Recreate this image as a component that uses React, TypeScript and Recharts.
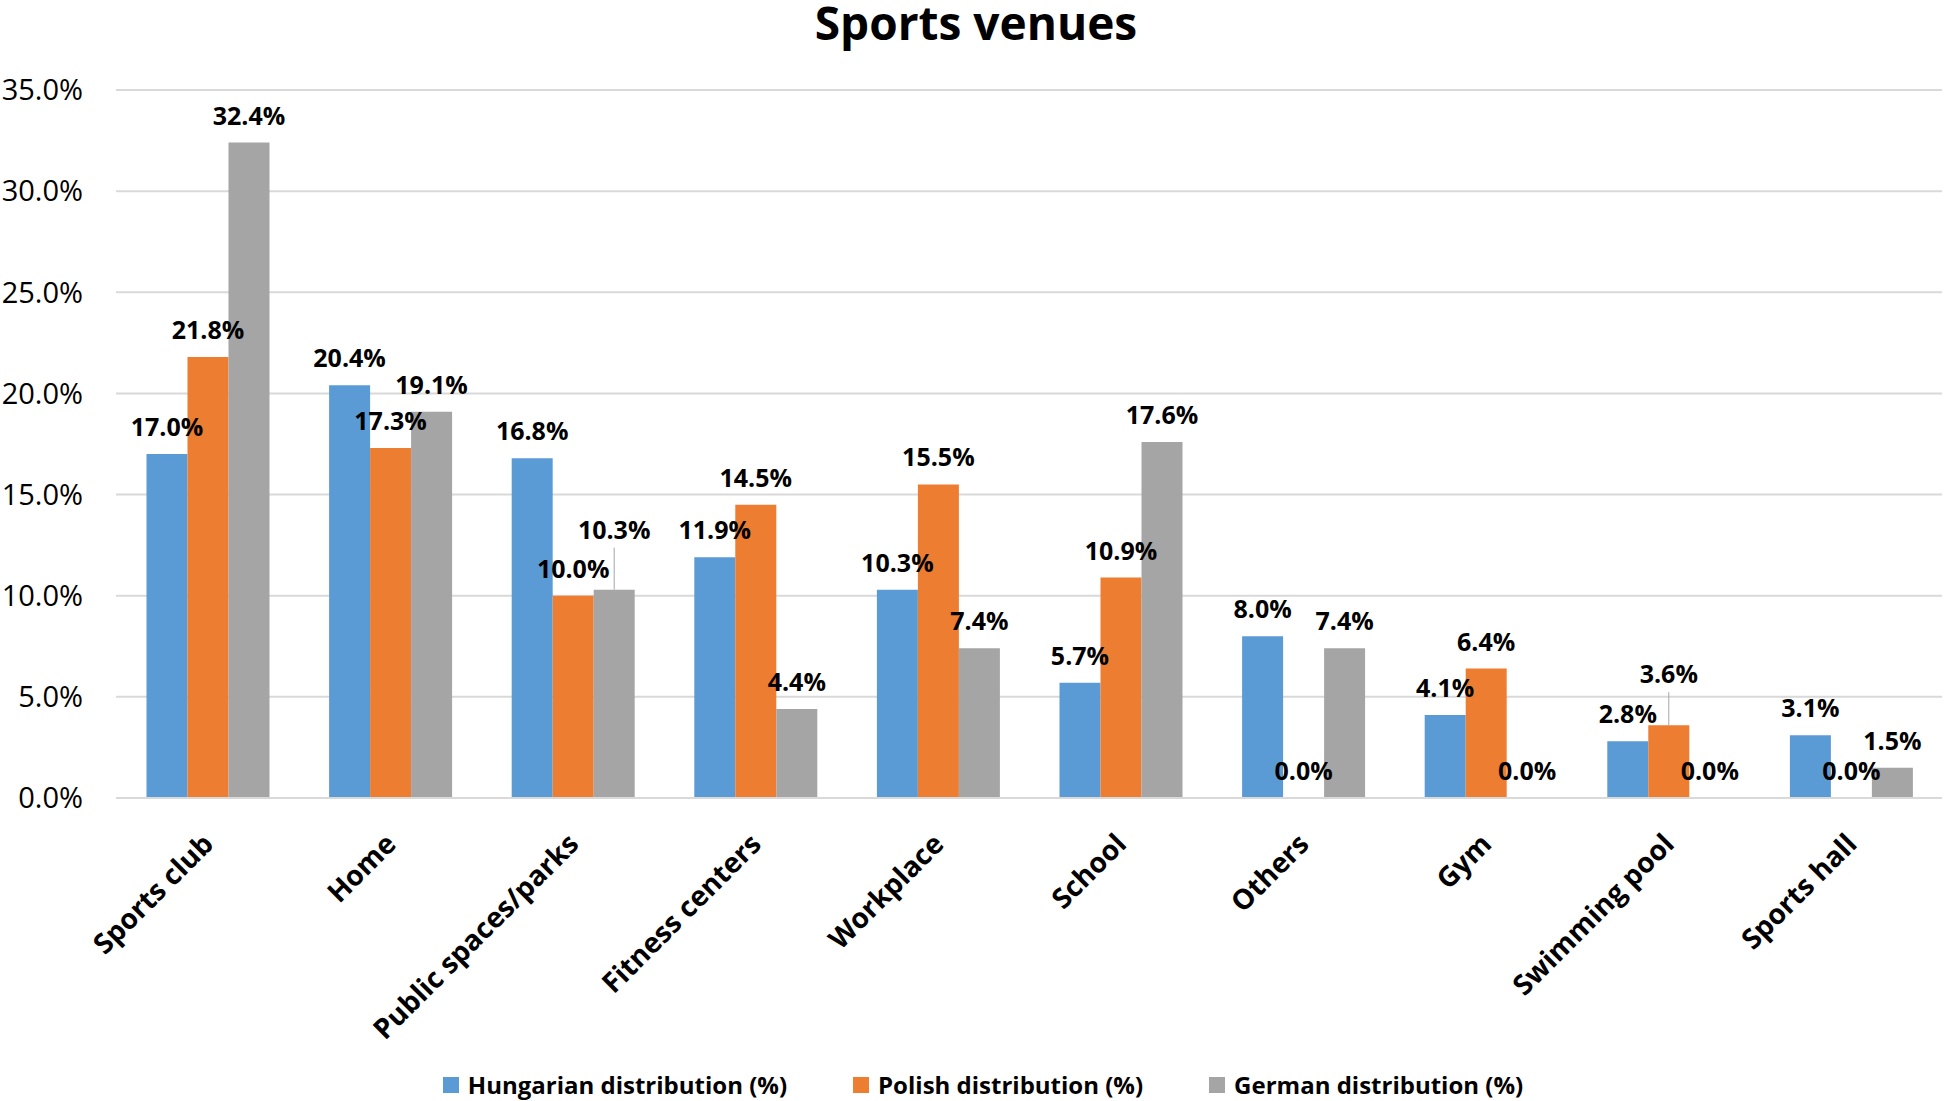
import { Bar, BarChart, CartesianGrid, LabelList, Rectangle, XAxis, YAxis } from "recharts";

const categories = [
  "Sports club",
  "Home",
  "Public spaces/parks",
  "Fitness centers",
  "Workplace",
  "School",
  "Others",
  "Gym",
  "Swimming pool",
  "Sports hall",
];
const hungarian = [17.0, 20.4, 16.8, 11.9, 10.3, 5.7, 8.0, 4.1, 2.8, 3.1];
const polish = [21.8, 17.3, 10.0, 14.5, 15.5, 10.9, 0.0, 6.4, 3.6, 0.0];
const german = [32.4, 19.1, 10.3, 4.4, 7.4, 17.6, 7.4, 0.0, 0.0, 1.5];
const yTicks = [0, 5, 10, 15, 20, 25, 30, 35];

const series = [
  { key: "hungarian", name: "Hungarian distribution (%)", color: "#5B9BD5" },
  { key: "polish", name: "Polish distribution (%)", color: "#ED7D31" },
  { key: "german", name: "German distribution (%)", color: "#A5A5A5" },
];

const data = categories.map((c, i) => ({
  category: c,
  hungarian: hungarian[i],
  polish: polish[i],
  german: german[i],
}));

// labels that Excel pushed up with a leader line (series|category)
const lifted: Record<string, number> = {
  "german|Public spaces/parks": 33,
  "polish|Swimming pool": 24,
};

const FONT = "'Open Sans', 'DejaVu Sans', sans-serif";

function makeLabel(key: string) {
  return (props: any) => {
    const { x, y, width, height, value, index } = props;
    const cx = Number(x) + Number(width) / 2;
    // zero bars get a 1px min size so the label still shows; put it back on the axis
    const top = Number(value) === 0 ? Number(y) + Number(height) : Number(y);
    const extra = lifted[`${key}|${categories[index]}`] || 0;
    const ty = top - 28 - extra;
    return (
      <g>
        {extra > 0 && <line x1={cx} x2={cx} y1={ty + 19} y2={top} stroke="#A6A6A6" strokeWidth={1} />}
        <text x={cx} y={ty} textAnchor="middle" dominantBaseline="central" fontFamily={FONT} fontWeight={700} fontSize={25} fill="#000">
          {Number(value).toFixed(1)}%
        </text>
      </g>
    );
  };
}

function BarShape(props: any) {
  if (!props.value || Number(props.value) === 0 || (Array.isArray(props.value) && props.value[1] === 0)) return <g />;
  return <Rectangle {...props} />;
}

function CategoryTick(props: any) {
  const { x, y, payload } = props;
  return (
    <text
      x={x}
      y={y}
      transform={`rotate(-45 ${x} ${y})`}
      textAnchor="end"
      dominantBaseline="central"
      fontFamily={FONT}
      fontWeight={700}
      fontSize={28}
      fill="#000"
    >
      {payload.value}
    </text>
  );
}

export default function App() {
  return (
    <div style={{ position: "absolute", left: 0, top: 0, width: 1946, height: 1101, background: "#fff", fontFamily: FONT }}>
      <div style={{ position: "absolute", left: 0, width: 1946, top: 0, textAlign: "center", fontSize: 46, fontWeight: 700, lineHeight: "44px", paddingLeft: 6, boxSizing: "border-box" }}>
        Sports venues
      </div>
      <BarChart
        width={1946}
        height={1101}
        data={data}
        margin={{ top: 90, right: 4, bottom: 103, left: 0 }}
        barCategoryGap="16.7%"
        barGap={0}
      >
        <CartesianGrid vertical={false} stroke="#D9D9D9" strokeWidth={2} />
        <XAxis
          dataKey="category"
          height={200}
          interval={0}
          tickLine={false}
          tickSize={0}
          tickMargin={40}
          axisLine={{ stroke: "#D9D9D9", strokeWidth: 2 }}
          tick={<CategoryTick />}
        />
        <YAxis
          width={116}
          domain={[0, 35]}
          ticks={yTicks}
          axisLine={false}
          tickLine={false}
          tickSize={0}
          tickMargin={33}
          tickFormatter={(v: number) => `${v.toFixed(1)}%`}
          tick={{ fill: "#000", fontSize: 29, fontFamily: FONT }}
        />
        {series.map((s) => (
          <Bar
            key={s.key}
            dataKey={s.key}
            name={s.name}
            fill={s.color}
            minPointSize={1}
            shape={<BarShape />}
            isAnimationActive={false}
          >
            <LabelList dataKey={s.key} content={makeLabel(s.key)} />
          </Bar>
        ))}
      </BarChart>
      <div style={{ position: "absolute", left: 0, top: 1072, width: 1946, display: "flex", justifyContent: "center", paddingLeft: 20, boxSizing: "border-box" }}>
        {series.map((s, i) => (
          <div key={s.key} style={{ display: "flex", alignItems: "center", marginLeft: i === 0 ? 0 : 66 }}>
            <span style={{ display: "inline-block", width: 16, height: 16, background: s.color, marginRight: 9 }} />
            <span style={{ fontSize: 24, fontWeight: 700, lineHeight: "26px" }}>{s.name}</span>
          </div>
        ))}
      </div>
    </div>
  );
}
